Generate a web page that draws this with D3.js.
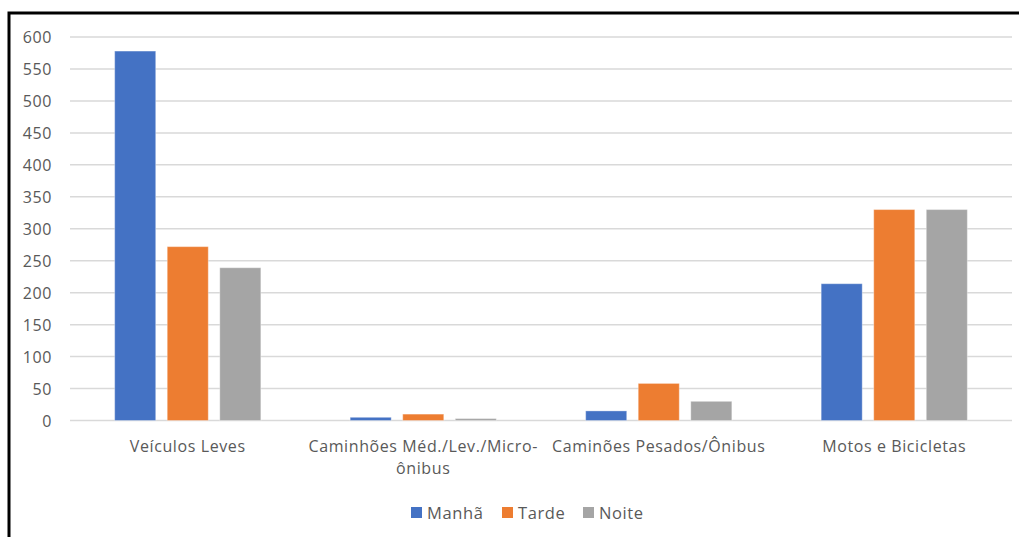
<!DOCTYPE html>
<html>
<head>
<meta charset="utf-8">
<script src="https://cdn.jsdelivr.net/npm/d3@7"></script>
<style>
  html, body { margin: 0; padding: 0; background: #fff; }
  svg { display: block; }
  text { font-family: "Open Sans", sans-serif; fill: #595959; }
</style>
</head>
<body>
<svg id="chart" width="1019" height="537"></svg>
<script>
// Traffic counts per vehicle class and period of the day
const categories = [
  ["Veículos Leves"],
  ["Caminhões Méd./Lev./Micro-", "ônibus"],
  ["Caminões Pesados/Ônibus"],
  ["Motos e Bicicletas"]
];
const seriesNames = ["Manhã", "Tarde", "Noite"];
const manha = [578, 5, 15, 214];
const tarde = [272, 10, 58, 330];
const noite = [239, 3, 30, 330];
const yTicks = [0, 50, 100, 150, 200, 250, 300, 350, 400, 450, 500, 550, 600];
const colors = ["#4472C4", "#ED7D31", "#A5A5A5"];

const seriesValues = [manha, tarde, noite];
const catKeys = categories.map(c => c.join(" "));

const svg = d3.select("#chart");

// frame around the chart area
svg.append("rect")
  .attr("x", 9).attr("y", 13)
  .attr("width", 1200).attr("height", 700)
  .attr("fill", "none").attr("stroke", "#000").attr("stroke-width", 3);

const plot = { left: 70, right: 1012, top: 37, bottom: 420.5 };

const y = d3.scaleLinear().domain([0, 600]).range([plot.bottom, plot.top]);
const x0 = d3.scaleBand().domain(catKeys).range([plot.left, plot.right]).padding(0);
const x1 = d3.scaleBand().domain(seriesNames).range([0, x0.bandwidth()])
  .paddingInner(0.219).paddingOuter(0.85);

// horizontal gridlines
svg.append("g")
  .selectAll("line")
  .data(yTicks)
  .join("line")
  .attr("x1", plot.left).attr("x2", plot.right)
  .attr("y1", d => y(d)).attr("y2", d => y(d))
  .attr("stroke", "#d9d9d9").attr("stroke-width", 1.5);

// y tick labels
const yAxis = d3.axisLeft(y).tickValues(yTicks).tickSize(0).tickPadding(0);
const gy = svg.append("g").attr("transform", `translate(52,0)`).call(yAxis);
gy.select(".domain").remove();
gy.selectAll("text")
  .attr("font-size", 16)
  .attr("font-family", "Open Sans, sans-serif")
  .attr("fill", "#595959")
  .attr("letter-spacing", 0.6)
  .attr("dy", "0.35em");

// bars
const groups = svg.append("g")
  .selectAll("g")
  .data(catKeys)
  .join("g")
  .attr("transform", d => `translate(${x0(d)},0)`);

groups.selectAll("rect")
  .data((d, i) => seriesNames.map((s, j) => ({ s, j, v: seriesValues[j][i] })))
  .join("rect")
  .attr("x", d => x1(d.s))
  .attr("width", x1.bandwidth())
  .attr("y", d => y(d.v))
  .attr("height", d => y(0) - y(d.v))
  .attr("fill", d => colors[d.j])
  .attr("stroke", "rgba(255,255,255,0.35)")
  .attr("stroke-width", 1);

// category labels
const catLabels = svg.append("g")
  .selectAll("text")
  .data(categories)
  .join("text")
  .attr("x", (d, i) => x0(catKeys[i]) + x0.bandwidth() / 2)
  .attr("y", 452)
  .attr("text-anchor", "middle")
  .attr("font-size", 16)
  .attr("letter-spacing", 0.6);
catLabels.selectAll("tspan")
  .data(d => d)
  .join("tspan")
  .attr("x", function () { return d3.select(this.parentNode).attr("x"); })
  .attr("dy", (d, i) => i === 0 ? 0 : 21.5)
  .text(d => d);

// legend
const legendX = [411, 502, 583];
const legend = svg.append("g")
  .selectAll("g")
  .data(seriesNames)
  .join("g")
  .attr("transform", (d, i) => `translate(${legendX[i]},507)`);
legend.append("rect")
  .attr("width", 11).attr("height", 11)
  .attr("fill", (d, i) => colors[i]);
legend.append("text")
  .attr("x", 16).attr("y", 11.5)
  .attr("font-size", 16.5)
  .attr("letter-spacing", 0.6)
  .text(d => d);
</script>
</body>
</html>
